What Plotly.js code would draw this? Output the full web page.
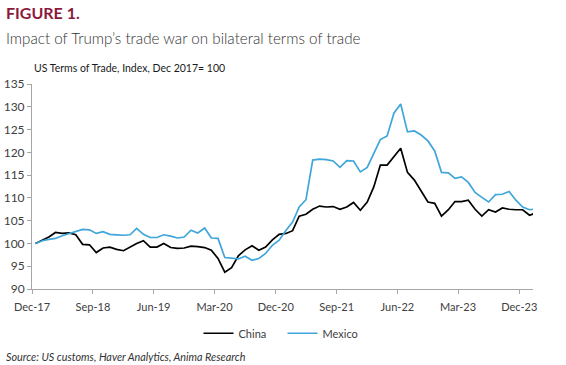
<!DOCTYPE html>
<html>
<head>
<meta charset="utf-8">
<script src="https://cdn.plot.ly/plotly-3.0.1.min.js"></script>
<style>
  html, body { margin: 0; padding: 0; background: #fff; }
  #chart { width: 566px; height: 365px; }
</style>
</head>
<body>
<div id="chart"></div>
<script>
const months = [
  "2017-12",
  "2018-01","2018-02","2018-03","2018-04","2018-05","2018-06","2018-07","2018-08","2018-09","2018-10","2018-11","2018-12",
  "2019-01","2019-02","2019-03","2019-04","2019-05","2019-06","2019-07","2019-08","2019-09","2019-10","2019-11","2019-12",
  "2020-01","2020-02","2020-03","2020-04","2020-05","2020-06","2020-07","2020-08","2020-09","2020-10","2020-11","2020-12",
  "2021-01","2021-02","2021-03","2021-04","2021-05","2021-06","2021-07","2021-08","2021-09","2021-10","2021-11","2021-12",
  "2022-01","2022-02","2022-03","2022-04","2022-05","2022-06","2022-07","2022-08","2022-09","2022-10","2022-11","2022-12",
  "2023-01","2023-02","2023-03","2023-04","2023-05","2023-06","2023-07","2023-08","2023-09","2023-10","2023-11","2023-12",
  "2024-01","2024-02"
];

const china = [
  100.0, 100.8, 101.4, 102.4, 102.2, 102.3, 101.9, 99.8, 99.7, 98.0,
  99.0, 99.2, 98.7, 98.4, 99.2, 100.0, 100.6, 99.2, 99.2, 100.0,
  99.1, 98.9, 99.0, 99.4, 99.3, 99.1, 98.5, 96.7, 93.7, 94.7,
  97.3, 98.6, 99.5, 98.5, 99.2, 100.8, 102.0, 102.2, 102.8, 106.0,
  106.4, 107.5, 108.2, 108.0, 108.1, 107.5, 108.0, 109.0, 107.3, 109.1,
  112.4, 117.2, 117.2, 119.0, 120.9, 115.6, 113.9, 111.5, 109.1, 108.8,
  106.0, 107.4, 109.2, 109.2, 109.5, 107.5, 106.0, 107.4, 106.9, 107.8,
  107.5, 107.4, 107.4, 106.2, 106.7
];

const mexico = [
  100.0, 100.6, 100.9, 101.1, 101.7, 102.2, 102.7, 103.1, 103.0, 102.2,
  102.6, 102.0, 101.9, 101.8, 101.9, 103.3, 102.0, 101.3, 101.3, 101.9,
  101.6, 101.2, 101.4, 102.9, 102.3, 103.4, 101.2, 101.1, 96.9, 96.7,
  96.6, 97.2, 96.3, 96.7, 97.8, 99.6, 100.7, 102.9, 104.7, 108.0,
  109.6, 118.3, 118.5, 118.4, 118.1, 116.7, 118.2, 118.1, 115.7, 116.7,
  119.8, 122.8, 123.6, 128.6, 130.6, 124.5, 124.7, 123.8, 122.5, 120.3,
  115.6, 115.5, 114.3, 114.6, 113.4, 111.2, 110.1, 109.1, 110.7, 110.8,
  111.4, 109.5, 108.0, 107.4, 107.6
];

const yTicks = [90, 95, 100, 105, 110, 115, 120, 125, 130, 135];

const FONT = "Lato, 'Open Sans', sans-serif";

const traces = [
  {
    x: months, y: china, name: "China", type: "scatter", mode: "lines",
    xperiod: "M1", xperiodalignment: "middle",
    line: { color: "#000000", width: 1.7 }
  },
  {
    x: months, y: mexico, name: "Mexico", type: "scatter", mode: "lines",
    xperiod: "M1", xperiodalignment: "middle",
    line: { color: "#3FA6DA", width: 1.7 }
  }
];

const layout = {
  width: 566, height: 365,
  margin: { l: 32, r: 33, t: 84, b: 76 },
  paper_bgcolor: "#ffffff", plot_bgcolor: "#ffffff",
  font: { family: FONT, color: "#404040", size: 11 },
  showlegend: true,
  legend: {
    orientation: "h", x: 0.5, xanchor: "center", y: -0.145, yanchor: "top",
    font: { family: FONT, size: 11, color: "#404040" },
    itemwidth: 30, traceorder: "normal",
    entrywidth: 39, entrywidthmode: "pixels"
  },
  xaxis: {
    type: "date",
    range: ["2017-12-01", "2024-02-01"],
    tick0: "2017-12-01", dtick: "M9", tickformat: "%b-%y",
    showgrid: false, zeroline: false,
    showline: true, linecolor: "#A6A6A6", linewidth: 1,
    ticks: "outside", ticklen: 4, tickcolor: "#A6A6A6",
    ticklabelstandoff: 4,
    tickfont: { family: FONT, size: 11, color: "#404040" }
  },
  yaxis: {
    range: [90, 135], tickvals: yTicks,
    showgrid: false, zeroline: false,
    showline: true, linecolor: "#A6A6A6", linewidth: 1,
    ticks: "outside", ticklen: 4, tickcolor: "#A6A6A6",
    tickfont: { family: FONT, size: 12, color: "#404040" }
  },
  annotations: [
    {
      text: "<b>FIGURE 1.</b>", xref: "paper", yref: "paper",
      x: -0.055, y: 1.347, xanchor: "left", yanchor: "middle", showarrow: false,
      font: { family: FONT, size: 16, color: "#8C1A3C" }
    },
    {
      text: "Impact of Trump’s trade war on bilateral terms of trade", xref: "paper", yref: "paper",
      x: -0.055, y: 1.225, xanchor: "left", yanchor: "middle", showarrow: false,
      font: { family: FONT, size: 15.2, color: "#333333", weight: 300 }
    },
    {
      text: "US Terms of Trade, Index, Dec 2017= 100", xref: "paper", yref: "paper",
      x: 0.0, y: 1.078, xanchor: "left", yanchor: "middle", showarrow: false,
      font: { family: FONT, size: 10.5, color: "#1a1a1a" }
    },
    {
      text: "<i>Source: US customs, Haver Analytics, Anima Research</i>", xref: "paper", yref: "paper",
      x: -0.055, y: -0.33, xanchor: "left", yanchor: "middle", showarrow: false,
      font: { family: FONT, size: 10.8, color: "#333333" }
    }
  ]
};

Plotly.newPlot("chart", traces, layout, { displayModeBar: false, staticPlot: true });
</script>
</body>
</html>
